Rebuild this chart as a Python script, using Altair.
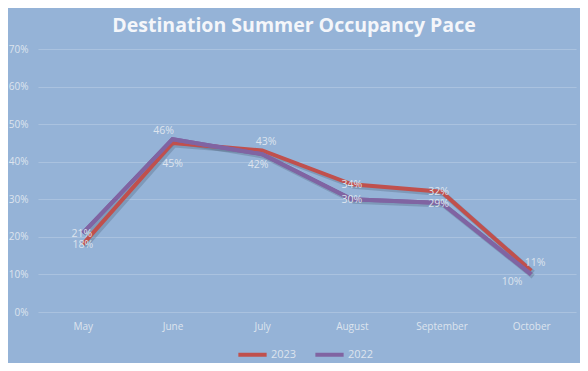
import altair as alt
import pandas as pd

months = ["May", "June", "July", "August", "September", "October"]
occ_2023 = [0.18, 0.45, 0.43, 0.34, 0.32, 0.11]
occ_2022 = [0.21, 0.46, 0.42, 0.30, 0.29, 0.10]
years = ["2023", "2022"]

# label nudges (pixels), style only
dx_2023 = [0, 0, 4, 0, -3, 4]
dy_2023 = [1, 21, -8, 1, 0, -8]
dx_2022 = [-1, -9, -4, 0, -3, -19]
dy_2022 = [1, -8, 11, 1, 1, 8]

rows = []
for i, m in enumerate(months):
    rows.append({"month": m, "year": "2023", "value": occ_2023[i], "key": f"2023-{i}"})
for i, m in enumerate(months):
    rows.append({"month": m, "year": "2022", "value": occ_2022[i], "key": f"2022-{i}"})
df = pd.DataFrame(rows)

BG = "#95B3D7"
TXT = "#DDE4EE"
FONT = "Open Sans"

x = alt.X("month:N", sort=months, title=None,
          scale=alt.Scale(type="point", padding=0.5),
          axis=alt.Axis(labelAngle=0, labelColor=TXT, labelFontSize=10, labelFont=FONT,
                        ticks=False, domain=False, grid=False, labelPadding=9))
y = alt.Y("value:Q", title=None,
          scale=alt.Scale(domain=[0, 0.7], nice=False),
          axis=alt.Axis(values=[0, 0.1, 0.2, 0.3, 0.4, 0.5, 0.6, 0.7], format=".0%",
                        labelColor=TXT, labelFontSize=10, labelFont=FONT,
                        ticks=False, domain=False, grid=True, gridColor="#AAC2DF",
                        gridWidth=1, labelPadding=10))

color = alt.Color("year:N", scale=alt.Scale(domain=years, range=["#C0504D", "#8064A2"]),
                  legend=alt.Legend(title=None, orient="none", legendX=198, legendY=289,
                                    direction="horizontal", symbolType="stroke",
                                    symbolSize=800, symbolStrokeWidth=4,
                                    labelColor=TXT, labelFontSize=11, labelFont=FONT,
                                    columnPadding=10, labelOffset=2))

base = alt.Chart(df)

shadow = base.mark_line(strokeWidth=5, color="#3A4A60", opacity=0.25,
                        xOffset=2, yOffset=2).encode(x=x, y=y, detail="year:N")

lines = base.mark_line(strokeWidth=4).encode(x=x, y=y, color=color)

line22 = base.transform_filter(alt.datum.year == "2022").mark_line(
    strokeWidth=4, color="#8064A2").encode(x=x, y=y)

label_layers = []
for yr, dxs, dys in (("2023", dx_2023, dy_2023), ("2022", dx_2022, dy_2022)):
    for i in range(len(months)):
        label_layers.append(
            base.transform_filter(alt.datum.key == f"{yr}-{i}").mark_text(
                fontSize=10.5, font=FONT, color=TXT, align="center", baseline="middle",
                dx=dxs[i], dy=dys[i]).encode(
                x=x, y=y, text=alt.Text("value:Q", format=".0%")))

chart = alt.layer(shadow, lines, line22, *label_layers).properties(
    width=538, height=263,
    background=BG,
    padding={"left": 30, "top": 41, "right": 4, "bottom": 51},
    autosize=alt.AutoSizeParams(type="none"),
    title=alt.TitleParams("Destination Summer Occupancy Pace", color="#F4F6FA",
                          font=FONT, fontSize=19.5, fontWeight="bold",
                          anchor="middle", dx=-13, offset=8),
).configure_view(stroke=None, fill=BG)

chart.save("out.html", embed_options={"renderer": "svg", "actions": False})
